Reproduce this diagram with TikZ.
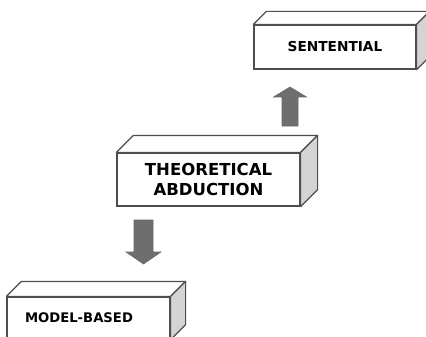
\documentclass[tikz,border=0pt]{standalone}
\usepackage{fontspec}
\setmainfont{DejaVu Sans}
\usetikzlibrary{calc}
\definecolor{edgegray}{RGB}{78,78,78}
\definecolor{sidegray}{RGB}{212,212,212}
\definecolor{arrowgray}{RGB}{110,110,110}
\tikzset{
  frontface/.style={draw=edgegray, fill=white, line width=1.2pt, inner sep=0pt},
  slabtop/.style={draw=edgegray, fill=white, line width=1.2pt, line join=round},
  slabside/.style={draw=edgegray, fill=sidegray, line width=1.2pt, line join=round},
  fatarrow/.style={draw=edgegray!85, fill=arrowgray, line width=0.6pt, line join=miter}
}
% top and right faces of a slab: node, depth
\newcommand{\slabfaces}[2]{%
  \draw[slabtop] (#1.north west) -- ++(#2,-#2) -- ($(#1.north east)+(#2,-#2)$) -- (#1.north east) -- cycle;
  \draw[slabside] (#1.north east) -- ++(#2,-#2) -- ($(#1.south east)+(#2,-#2)$) -- (#1.south east) -- cycle;
}
% block arrow: centre x, tail y, head base y, tip y, shaft half width, head half width
\newcommand{\blockarrow}[6]{%
  \draw[fatarrow] (#1-#5,#2) -- (#1-#5,#3) -- (#1-#6,#3) -- (#1,#4) -- (#1+#6,#3) -- (#1+#5,#3) -- (#1+#5,#2) -- cycle;
}

\begin{document}
\begin{tikzpicture}[x=1pt, y=-1pt]
    % Frame
    \clip (0,0) rectangle (426,337);
    \fill[white] (0,0) rectangle (426,337);

    % Slabs
    \node[frontface, minimum width=162pt, minimum height=44pt,
          font=\bfseries\fontsize{13.7}{16}\selectfont] (sentential) at (335,47) {SENTENTIAL};
    \slabfaces{sentential}{13}

    \node[frontface, minimum width=183pt, minimum height=53pt, align=center,
          font=\bfseries\fontsize{16.5}{19.5}\selectfont] (theoretical) at (208.5,179.5) {THEORETICAL\\ABDUCTION};
    \slabfaces{theoretical}{17}

    \node[frontface, minimum width=163pt, minimum height=42pt, text width=127pt, inner xsep=18pt, align=left,
          font=\bfseries\fontsize{13.2}{16}\selectfont] (modelbased) at (88.5,318) {MODEL-BASED};
    \slabfaces{modelbased}{15}

    % Arrows
    \blockarrow{290}{126}{97}{87}{8}{16.5}
    \blockarrow{143.5}{220}{252}{264}{9.5}{17.5}
\end{tikzpicture}
\end{document}
